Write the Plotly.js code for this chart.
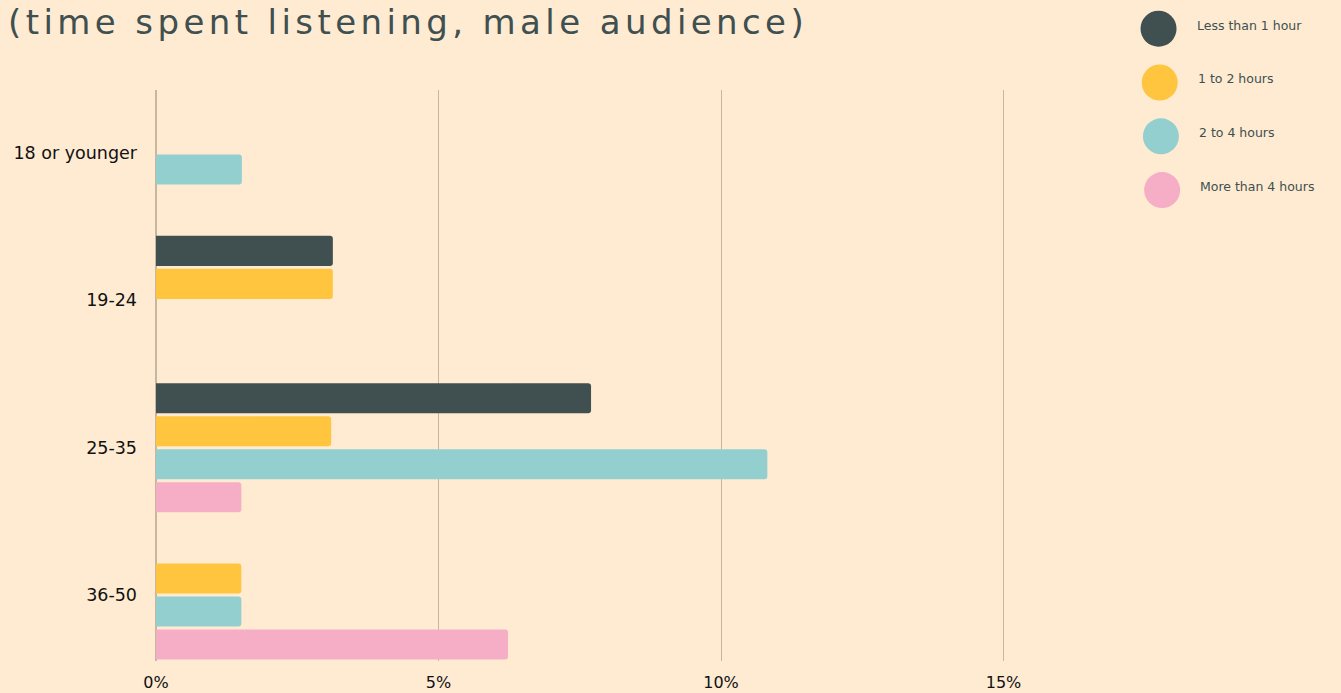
<!DOCTYPE html>
<html>
<head>
<meta charset="utf-8">
<script src="https://cdn.plot.ly/plotly-3.0.1.min.js"></script>
<style>
html,body{margin:0;padding:0;background:#feebd2;}
#chart{width:1341px;height:693px;}
.gtitle{letter-spacing:4.4px;}
</style>
</head>
<body>
<div id="chart"></div>
<script>
// ---- data ----
const ageGroups = ["18 or younger", "19-24", "25-35", "36-50"];
const seriesNames = ["Less than 1 hour", "1 to 2 hours", "2 to 4 hours", "More than 4 hours"];
const lessThan1 = [null, 3.13, 7.70, null];
const oneTo2 = [null, 3.13, 3.10, 1.51];
const twoTo4 = [1.52, null, 10.82, 1.51];
const moreThan4 = [null, null, 1.51, 6.23];
const xTickVals = [0, 5, 10, 15];
const xTickText = ["0%", "5%", "10%", "15%"];
const titleText = "(time spent listening, male audience)";

const seriesValues = [lessThan1, oneTo2, twoTo4, moreThan4];
const colors = ["#404f4f", "#ffc53f", "#94cfd0", "#f6aec6"];
const FONT = "'DejaVu Sans', sans-serif";

const traces = seriesNames.map((name, i) => ({
  type: "bar",
  orientation: "h",
  name: name,
  y: ageGroups,
  x: seriesValues[i],
  marker: {color: colors[i], cornerradius: 3},
  showlegend: false,
  hoverinfo: "x+y+name"
}));

// plot geometry (pixels)
const W = 1341, H = 693;
const mL = 156, mT = 90, mB = 32;
const xMax = 16;
const plotW = xMax * 56.47;
const mR = W - mL - plotW;
const px2paperX = p => (p - mL) / plotW;
const px2paperY = p => 1 - (p - mT) / (H - mT - mB);

const shapes = [];
const annotations = [];
seriesNames.forEach((name, i) => {
  const cx = 1158 + i * 1.2;
  const cy = 28.7 + i * 53.8;
  const r = 18;
  shapes.push({
    type: "circle", xref: "paper", yref: "paper",
    x0: px2paperX(cx - r), x1: px2paperX(cx + r),
    y0: px2paperY(cy + r), y1: px2paperY(cy - r),
    fillcolor: colors[i], line: {width: 0}
  });
  annotations.push({
    xref: "paper", yref: "paper",
    x: px2paperX(1194 + i), y: px2paperY(cy - 3.5),
    xanchor: "left", yanchor: "middle",
    text: name, showarrow: false,
    font: {family: FONT, size: 12.5, color: "#404f4f"}
  });
});

const layout = {
  width: W, height: H,
  paper_bgcolor: "#feebd2",
  plot_bgcolor: "#feebd2",
  margin: {l: mL, r: mR, t: mT, b: mB, pad: 0},
  barmode: "group",
  bargap: 0.104,
  bargroupgap: 0.09,
  title: {
    text: titleText,
    xref: "container", yref: "container",
    x: 8 / W, xanchor: "left",
    y: 1 - 22 / H, yanchor: "middle",
    font: {family: FONT, size: 34, color: "#404f4f"}
  },
  xaxis: {
    range: [0, xMax],
    tickvals: xTickVals,
    ticktext: xTickText,
    showgrid: true,
    gridcolor: "#c8b7a0",
    gridwidth: 1.2,
    zeroline: true,
    zerolinecolor: "#c8b7a0",
    zerolinewidth: 1.5,
    showline: false,
    ticks: "",
    ticklabelstandoff: 10,
    tickfont: {family: FONT, size: 16, color: "#111111"},
    fixedrange: true
  },
  yaxis: {
    type: "category",
    range: [3.448, -0.428],
    showgrid: false,
    zeroline: false,
    showline: false,
    ticks: "",
    ticklabelstandoff: 18,
    tickfont: {family: FONT, size: 17.5, color: "#111111"},
    fixedrange: true
  },
  shapes: shapes,
  annotations: annotations,
  hovermode: "closest"
};

Plotly.newPlot("chart", traces, layout, {displayModeBar: false, responsive: false});
</script>
</body>
</html>
